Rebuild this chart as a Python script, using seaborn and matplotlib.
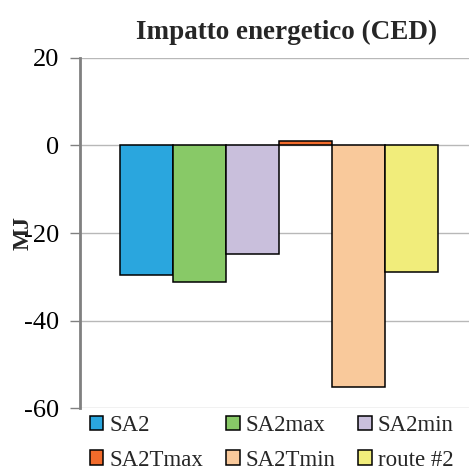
import matplotlib
matplotlib.use("Agg")
import matplotlib.pyplot as plt
import seaborn as sns
import pandas as pd

series = ["SA2", "SA2max", "SA2min", "SA2Tmax", "SA2Tmin", "route #2"]
values = [-29.5, -31.1, -24.9, 1.1, -55.3, -29.0]
colors = ["#2aa6de", "#88c967", "#c9bfdc", "#f26b2b", "#f9c99b", "#f1ed7b"]
yticks = [20, 0, -20, -40, -60]

df = pd.DataFrame({"group": ["CED"] * len(series), "series": series, "value": values})

sns.set_theme(style="white")
plt.rcParams["font.family"] = ["Liberation Serif", "DejaVu Serif"]

fig = plt.figure(figsize=(4.69, 4.73), dpi=100)
ax = fig.add_axes([80 / 469, 1 - 408 / 473, 389 / 469, 350 / 473])

sns.barplot(data=df, x="group", y="value", hue="series", hue_order=series,
            palette=colors, width=0.8, edgecolor="black", linewidth=1.1,
            saturation=1, ax=ax, legend=True)

ax.set_ylim(-60, 20)
ax.set_yticks(yticks)
ax.set_yticklabels([str(t) for t in yticks], fontsize=19)
ax.set_xlim(-0.5, 0.478)
ax.set_xticks([])
ax.set_xlabel("")
ax.set_ylabel("MJ", fontsize=17, fontweight="bold")
ax.yaxis.set_label_coords(-0.12, 0.5)

ax.grid(axis="y", color="#b8b8b8", linewidth=1)
ax.set_axisbelow(True)
for s in ["top", "right", "bottom"]:
    ax.spines[s].set_visible(False)
ax.spines["left"].set_color("#808080")
ax.spines["left"].set_linewidth(2)
ax.tick_params(axis="y", which="both", length=7, width=1, color="#808080",
               left=True, pad=8, labelcolor="black")

ax.set_title("Impatto energetico (CED)", fontsize=19.5, fontweight="bold",
             pad=14, x=0.53)

# legend filled row by row: reorder handles for column-major layout
handles, labels = ax.get_legend_handles_labels()
order = [0, 3, 1, 4, 2, 5]
ax.legend([handles[i] for i in order], [labels[i] for i in order],
          loc="upper left", bbox_to_anchor=(0.025, -0.02),
          ncol=3, frameon=False, fontsize=16.5, handlelength=0.6, handleheight=0.6,
          handletextpad=0.25, columnspacing=1.0, labelspacing=0.6, borderaxespad=0,
          borderpad=0)

fig.savefig("out.png", dpi=100)
